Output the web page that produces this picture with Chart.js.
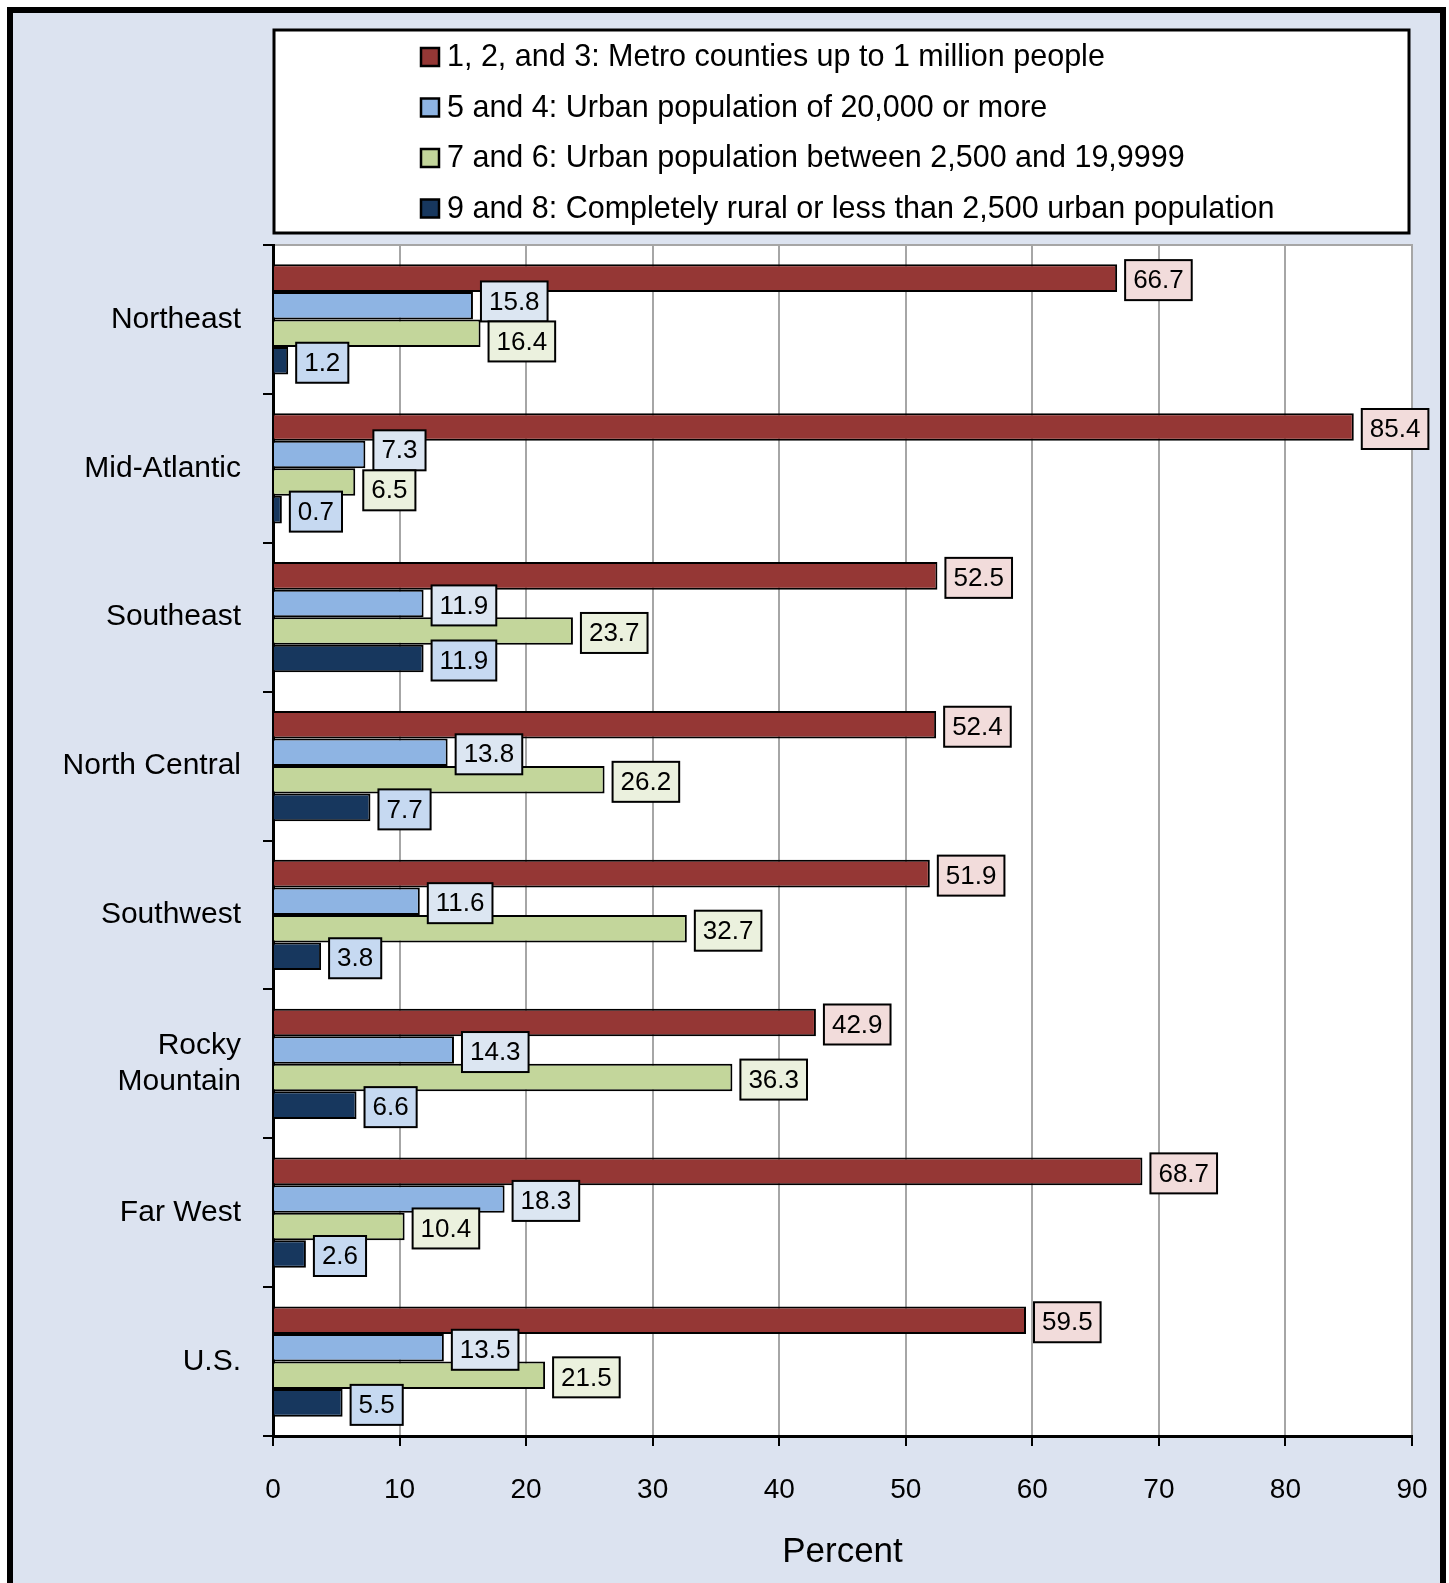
<!DOCTYPE html>
<html>
<head>
<meta charset="utf-8">
<script src="https://cdn.jsdelivr.net/npm/chart.js@4.4.1/dist/chart.umd.min.js"></script>
<style>
  html, body { margin: 0; padding: 0; background: #fff; }
  #wrap { width: 1449px; height: 1583px; }
</style>
</head>
<body>
<div id="wrap"><canvas id="chart" width="1449" height="1583"></canvas></div>
<script>
// values (percent of counties)
const regions = ['Northeast', 'Mid-Atlantic', 'Southeast', 'North Central', 'Southwest', ['Rocky', 'Mountain'], 'Far West', 'U.S.'];
const seriesNames = [
  '1, 2, and 3: Metro counties up to 1 million people',
  '5 and 4: Urban population of 20,000 or more',
  '7 and 6: Urban population between 2,500 and 19,9999',
  '9 and 8: Completely rural or less than 2,500 urban population'
];
const metro = [66.7, 85.4, 52.5, 52.4, 51.9, 42.9, 68.7, 59.5];
const urbanLarge = [15.8, 7.3, 11.9, 13.8, 11.6, 14.3, 18.3, 13.5];
const urbanSmall = [16.4, 6.5, 23.7, 26.2, 32.7, 36.3, 10.4, 21.5];
const rural = [1.2, 0.7, 11.9, 7.7, 3.8, 6.6, 2.6, 5.5];
const xTicks = [0, 10, 20, 30, 40, 50, 60, 70, 80, 90];

const barColors = ['#953735', '#8eb4e3', '#c3d69b', '#17375e'];
const labelFills = ['#f2dcdb', '#dce6f2', '#ebf1de', '#c6d9f1'];
const FONT = '"Liberation Sans", Arial, sans-serif';
const panelBg = '#dce3f0';

// frame, panel colour and white plot area
const backdrop = {
  id: 'backdrop',
  beforeDraw(chart) {
    const ctx = chart.ctx;
    const a = chart.chartArea;
    ctx.save();
    ctx.fillStyle = '#fff';
    ctx.fillRect(0, 0, chart.width, chart.height);
    ctx.fillStyle = panelBg;
    ctx.fillRect(10, 10, 1433, chart.height);
    ctx.strokeStyle = '#000';
    ctx.lineWidth = 6;
    ctx.beginPath();
    ctx.moveTo(10, chart.height + 10);
    ctx.lineTo(10, 10);
    ctx.lineTo(1443, 10);
    ctx.lineTo(1443, chart.height + 10);
    ctx.stroke();
    ctx.fillStyle = '#fff';
    ctx.fillRect(a.left, a.top, a.right - a.left, a.bottom - a.top);
    ctx.strokeStyle = '#a6a6a6';
    ctx.lineWidth = 2;
    ctx.strokeRect(a.left, a.top, a.right - a.left, a.bottom - a.top);
    ctx.restore();
  }
};

// boxed legend at the top
const boxLegend = {
  id: 'boxLegend',
  afterDraw(chart) {
    const ctx = chart.ctx;
    ctx.save();
    ctx.fillStyle = '#fff';
    ctx.fillRect(274, 30, 1135, 203);
    ctx.strokeStyle = '#000';
    ctx.lineWidth = 3;
    ctx.strokeRect(274, 30, 1135, 203);
    ctx.font = '30.5px ' + FONT;
    ctx.textBaseline = 'middle';
    ctx.textAlign = 'left';
    chart.data.datasets.forEach((ds, i) => {
      const cy = 57 + i * 50.5;
      ctx.fillStyle = ds.backgroundColor;
      ctx.fillRect(421, cy - 9, 18, 18);
      ctx.lineWidth = 2.5;
      ctx.strokeStyle = '#000';
      ctx.strokeRect(421, cy - 9, 18, 18);
      ctx.fillStyle = '#000';
      ctx.fillText(ds.label, 447, cy + 1);
    });
    ctx.restore();
  }
};

// boxed value labels next to each bar, nudged apart where two would overlap
const valueBoxes = {
  id: 'valueBoxes',
  afterDatasetsDraw(chart) {
    const ctx = chart.ctx;
    const h = 40;
    ctx.save();
    ctx.font = '26px ' + FONT;
    ctx.textBaseline = 'middle';
    ctx.textAlign = 'center';
    const n = chart.data.labels.length;
    for (let j = 0; j < n; j++) {
      const boxes = chart.data.datasets.map((ds, i) => {
        const bar = chart.getDatasetMeta(i).data[j];
        const txt = ds.data[j].toFixed(1);
        const w = ctx.measureText(txt).width + 16;
        return { i, txt, x: bar.x + 8, w, y: bar.y + 2 - h / 2 };
      });
      for (let k = 1; k < boxes.length; k++) {
        const a = boxes[k - 1], b = boxes[k];
        const xOverlap = a.x < b.x + b.w && b.x < a.x + a.w;
        const yOverlap = a.y + h - b.y;
        if (xOverlap && yOverlap > 0) {
          a.y -= yOverlap / 2;
          b.y += yOverlap / 2;
        }
      }
      boxes.forEach(b => {
        ctx.fillStyle = labelFills[b.i];
        ctx.fillRect(b.x, b.y, b.w, h);
        ctx.strokeStyle = '#000';
        ctx.lineWidth = 2;
        ctx.strokeRect(b.x, b.y, b.w, h);
        ctx.fillStyle = '#000';
        ctx.fillText(b.txt, b.x + b.w / 2, b.y + h / 2 + 1);
      });
    }
    ctx.restore();
  }
};

const seriesData = [metro, urbanLarge, urbanSmall, rural];

new Chart(document.getElementById('chart'), {
  type: 'bar',
  data: {
    labels: regions,
    datasets: seriesData.map((vals, i) => ({
      label: seriesNames[i],
      data: vals,
      backgroundColor: barColors[i],
      borderColor: '#000',
      borderWidth: 2,
      categoryPercentage: 0.74,
      barPercentage: 1.0
    }))
  },
  options: {
    indexAxis: 'y',
    responsive: false,
    animation: false,
    devicePixelRatio: 1,
    layout: { padding: { left: 12, right: 37, top: 245, bottom: 8 } },
    plugins: {
      legend: { display: false },
      tooltip: { enabled: false }
    },
    scales: {
      y: {
        afterFit: (scale) => { scale.width = 261; },
        grid: { drawOnChartArea: false, tickLength: 10, tickColor: '#000', lineWidth: 2 },
        border: { color: '#000', width: 3 },
        ticks: { color: '#000', padding: 22, font: { family: FONT, size: 30 } }
      },
      x: {
        min: 0,
        max: 90,
        afterFit: (scale) => { scale.height = 139; },
        afterBuildTicks: (scale) => { scale.ticks = xTicks.map(v => ({ value: v })); },
        grid: { color: '#a6a6a6', lineWidth: 2, tickColor: '#000', tickLength: 10 },
        border: { color: '#000', width: 3 },
        // tall line height drops the labels below the ticks without widening the right margin
        ticks: { color: '#000', padding: 0, font: { family: FONT, size: 28, lineHeight: 3.15 } },
        title: {
          display: true,
          text: 'Percent',
          color: '#000',
          font: { family: FONT, size: 35 },
          padding: { top: 0, bottom: 2 }
        }
      }
    }
  },
  plugins: [backdrop, valueBoxes, boxLegend]
});
</script>
</body>
</html>
